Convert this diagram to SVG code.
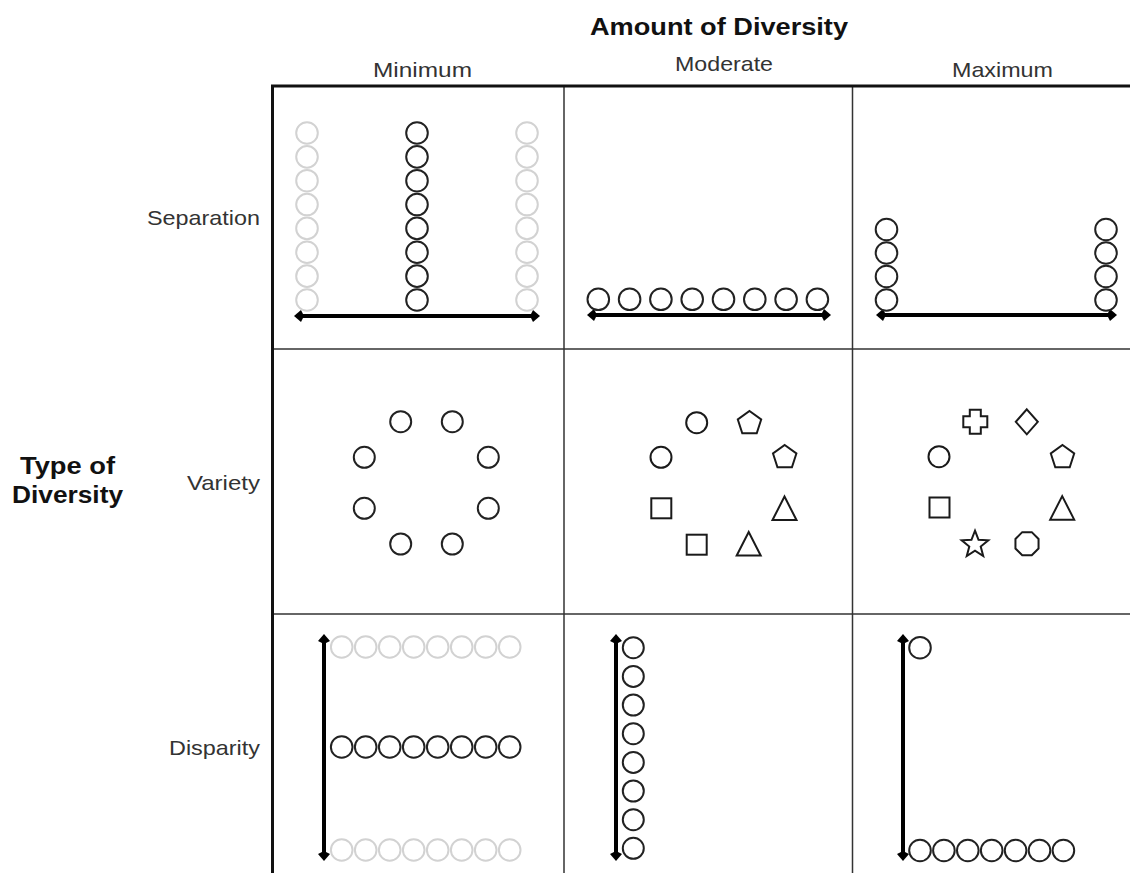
<svg xmlns="http://www.w3.org/2000/svg" xmlns:xlink="http://www.w3.org/1999/xlink" width="1130" height="873" viewBox="0 0 1130 873">
<style>
.bg{fill:#fff}
.title{font-family:"Liberation Sans",Arial,sans-serif;font-weight:bold;font-size:23px;fill:#111}
.lbl{font-family:"Liberation Sans",Arial,sans-serif;font-size:21px;fill:#333}
.border{stroke:#111;stroke-width:3;fill:none}
.grid{stroke:#333;stroke-width:1.5;fill:none}
.c{fill:none;stroke:#222;stroke-width:2}
.g{fill:none;stroke:#d2d2d2;stroke-width:2}
.sh{fill:none;stroke:#1a1a1a;stroke-width:2;stroke-linejoin:miter}
.axis{stroke:#000;stroke-width:4;fill:none}
</style>
<defs>
<marker id="tip" markerUnits="userSpaceOnUse" markerWidth="14" markerHeight="14" viewBox="-5 -7 14 14" refX="0" refY="0" orient="auto-start-reverse">
<path d="M7,0 L0,-6 L-3,0 L0,6 Z" fill="#000"/>
</marker>
<circle id="ci" r="10.8"/>
<circle id="cv" r="10.5"/>
<polygon id="pent" points="0,-12.3 11.7,-3.8 7.23,9.95 -7.23,9.95 -11.7,-3.8"/>
<polygon id="tri" points="0,-11.75 12,11.75 -12,11.75"/>
<rect id="sq" x="-10" y="-10" width="20" height="20"/>
<polygon id="star" points="0,-14 3.53,-4.85 13.31,-4.33 5.71,1.85 8.23,11.33 0,6 -8.23,11.33 -5.71,1.85 -13.31,-4.33 -3.53,-4.85"/>
<polygon id="oct" points="11.55,4.78 4.78,11.55 -4.78,11.55 -11.55,4.78 -11.55,-4.78 -4.78,-11.55 4.78,-11.55 11.55,-4.78"/>
<path id="cross" d="M-5.5,-12 H5.5 V-5.5 H12 V5.5 H5.5 V12 H-5.5 V5.5 H-12 V-5.5 H-5.5 Z"/>
<polygon id="dia" points="0,-12.5 11,0 0,12.5 -11,0"/>
</defs>
<rect class="bg" x="0" y="0" width="1130" height="873"/>

<g id="headers">
<text class="title" x="590" y="35" textLength="258" lengthAdjust="spacingAndGlyphs">Amount of Diversity</text>
<text class="lbl" x="373" y="77" textLength="99" lengthAdjust="spacingAndGlyphs">Minimum</text>
<text class="lbl" x="675" y="71" textLength="98" lengthAdjust="spacingAndGlyphs">Moderate</text>
<text class="lbl" x="952" y="77" textLength="101" lengthAdjust="spacingAndGlyphs">Maximum</text>
<text class="title" x="20" y="474" textLength="95" lengthAdjust="spacingAndGlyphs">Type of</text>
<text class="title" x="12" y="503" textLength="111" lengthAdjust="spacingAndGlyphs">Diversity</text>
<text class="lbl" x="147" y="225" textLength="113" lengthAdjust="spacingAndGlyphs">Separation</text>
<text class="lbl" x="187" y="490" textLength="73" lengthAdjust="spacingAndGlyphs">Variety</text>
<text class="lbl" x="169" y="755" textLength="91" lengthAdjust="spacingAndGlyphs">Disparity</text>
</g>

<g id="grid">
<line class="grid" x1="564" y1="86" x2="564" y2="873"/>
<line class="grid" x1="852.5" y1="86" x2="852.5" y2="873"/>
<line class="grid" x1="272" y1="349" x2="1130" y2="349"/>
<line class="grid" x1="272" y1="614" x2="1130" y2="614"/>
<line class="border" x1="271" y1="86" x2="1130" y2="86"/>
<line class="border" x1="272.5" y1="85" x2="272.5" y2="873"/>
</g>

<g id="connectors">
<line class="axis" x1="301" y1="316" x2="533" y2="316" marker-start="url(#tip)" marker-end="url(#tip)"/>
<line class="axis" x1="594" y1="315" x2="824" y2="315" marker-start="url(#tip)" marker-end="url(#tip)"/>
<line class="axis" x1="883" y1="315" x2="1110" y2="315" marker-start="url(#tip)" marker-end="url(#tip)"/>
<line class="axis" x1="324" y1="641" x2="324" y2="854" marker-start="url(#tip)" marker-end="url(#tip)"/>
<line class="axis" x1="616" y1="641" x2="616" y2="854" marker-start="url(#tip)" marker-end="url(#tip)"/>
<line class="axis" x1="903" y1="641" x2="903" y2="854" marker-start="url(#tip)" marker-end="url(#tip)"/>
</g>

<g id="sep-min">
<g class="g">
<use href="#ci" x="307" y="300"/><use href="#ci" x="307" y="276.14"/><use href="#ci" x="307" y="252.28"/><use href="#ci" x="307" y="228.42"/>
<use href="#ci" x="307" y="204.56"/><use href="#ci" x="307" y="180.7"/><use href="#ci" x="307" y="156.84"/><use href="#ci" x="307" y="132.98"/>
<use href="#ci" x="527" y="300"/><use href="#ci" x="527" y="276.14"/><use href="#ci" x="527" y="252.28"/><use href="#ci" x="527" y="228.42"/>
<use href="#ci" x="527" y="204.56"/><use href="#ci" x="527" y="180.7"/><use href="#ci" x="527" y="156.84"/><use href="#ci" x="527" y="132.98"/>
</g>
<g class="c">
<use href="#ci" x="417" y="300"/><use href="#ci" x="417" y="276.14"/><use href="#ci" x="417" y="252.28"/><use href="#ci" x="417" y="228.42"/>
<use href="#ci" x="417" y="204.56"/><use href="#ci" x="417" y="180.7"/><use href="#ci" x="417" y="156.84"/><use href="#ci" x="417" y="132.98"/>
</g>
</g>

<g id="sep-mod" class="c">
<use href="#ci" x="598.3" y="299.3"/><use href="#ci" x="629.6" y="299.3"/><use href="#ci" x="660.9" y="299.3"/><use href="#ci" x="692.2" y="299.3"/>
<use href="#ci" x="723.5" y="299.3"/><use href="#ci" x="754.8" y="299.3"/><use href="#ci" x="786.1" y="299.3"/><use href="#ci" x="817.4" y="299.3"/>
</g>

<g id="sep-max" class="c">
<use href="#ci" x="886.5" y="300"/><use href="#ci" x="886.5" y="276.5"/><use href="#ci" x="886.5" y="253"/><use href="#ci" x="886.5" y="229.5"/>
<use href="#ci" x="1106" y="300"/><use href="#ci" x="1106" y="276.5"/><use href="#ci" x="1106" y="253"/><use href="#ci" x="1106" y="229.5"/>
</g>

<g id="var-min" class="c">
<use href="#cv" x="400.7" y="421.7"/><use href="#cv" x="452.3" y="421.7"/>
<use href="#cv" x="364.3" y="457.3"/><use href="#cv" x="488.3" y="457.3"/>
<use href="#cv" x="364.3" y="508.3"/><use href="#cv" x="488.3" y="508.3"/>
<use href="#cv" x="400.7" y="544"/><use href="#cv" x="452.3" y="544"/>
</g>

<g id="var-mod" class="sh">
<use href="#cv" x="696.7" y="422.7"/>
<use href="#pent" x="749.5" y="423.3"/>
<use href="#cv" x="661" y="457.3"/>
<use href="#pent" x="784.7" y="457.3"/>
<use href="#sq" x="661.3" y="508.3"/>
<use href="#tri" x="784.5" y="508.3"/>
<use href="#sq" x="696.7" y="544.7"/>
<use href="#tri" x="748.7" y="543.7"/>
</g>

<g id="var-max" class="sh">
<use href="#cross" x="975.3" y="421.7"/>
<use href="#dia" x="1026.8" y="421.8"/>
<use href="#cv" x="939" y="456.7"/>
<use href="#pent" x="1062.5" y="457.3"/>
<use href="#sq" x="939.5" y="507.5"/>
<use href="#tri" x="1062.2" y="507.9"/>
<use href="#star" x="975" y="544.7"/>
<use href="#oct" x="1027" y="543.7"/>
</g>

<g id="dis-min">
<g class="g">
<use href="#ci" x="341.7" y="647"/><use href="#ci" x="365.7" y="647"/><use href="#ci" x="389.7" y="647"/><use href="#ci" x="413.7" y="647"/>
<use href="#ci" x="437.7" y="647"/><use href="#ci" x="461.7" y="647"/><use href="#ci" x="485.7" y="647"/><use href="#ci" x="509.7" y="647"/>
<use href="#ci" x="341.7" y="850"/><use href="#ci" x="365.7" y="850"/><use href="#ci" x="389.7" y="850"/><use href="#ci" x="413.7" y="850"/>
<use href="#ci" x="437.7" y="850"/><use href="#ci" x="461.7" y="850"/><use href="#ci" x="485.7" y="850"/><use href="#ci" x="509.7" y="850"/>
</g>
<g class="c">
<use href="#ci" x="341.7" y="747"/><use href="#ci" x="365.7" y="747"/><use href="#ci" x="389.7" y="747"/><use href="#ci" x="413.7" y="747"/>
<use href="#ci" x="437.7" y="747"/><use href="#ci" x="461.7" y="747"/><use href="#ci" x="485.7" y="747"/><use href="#ci" x="509.7" y="747"/>
</g>
</g>

<g id="dis-mod" class="c">
<use href="#cv" x="633.3" y="647.7"/><use href="#cv" x="633.3" y="676.4"/><use href="#cv" x="633.3" y="705"/><use href="#cv" x="633.3" y="733.7"/>
<use href="#cv" x="633.3" y="762.4"/><use href="#cv" x="633.3" y="791"/><use href="#cv" x="633.3" y="819.7"/><use href="#cv" x="633.3" y="848.3"/>
</g>

<g id="dis-max" class="c">
<use href="#ci" x="920" y="647.7"/>
<use href="#ci" x="920" y="850.5"/><use href="#ci" x="943.9" y="850.5"/><use href="#ci" x="967.8" y="850.5"/><use href="#ci" x="991.7" y="850.5"/>
<use href="#ci" x="1015.6" y="850.5"/><use href="#ci" x="1039.5" y="850.5"/><use href="#ci" x="1063.4" y="850.5"/>
</g>
</svg>
